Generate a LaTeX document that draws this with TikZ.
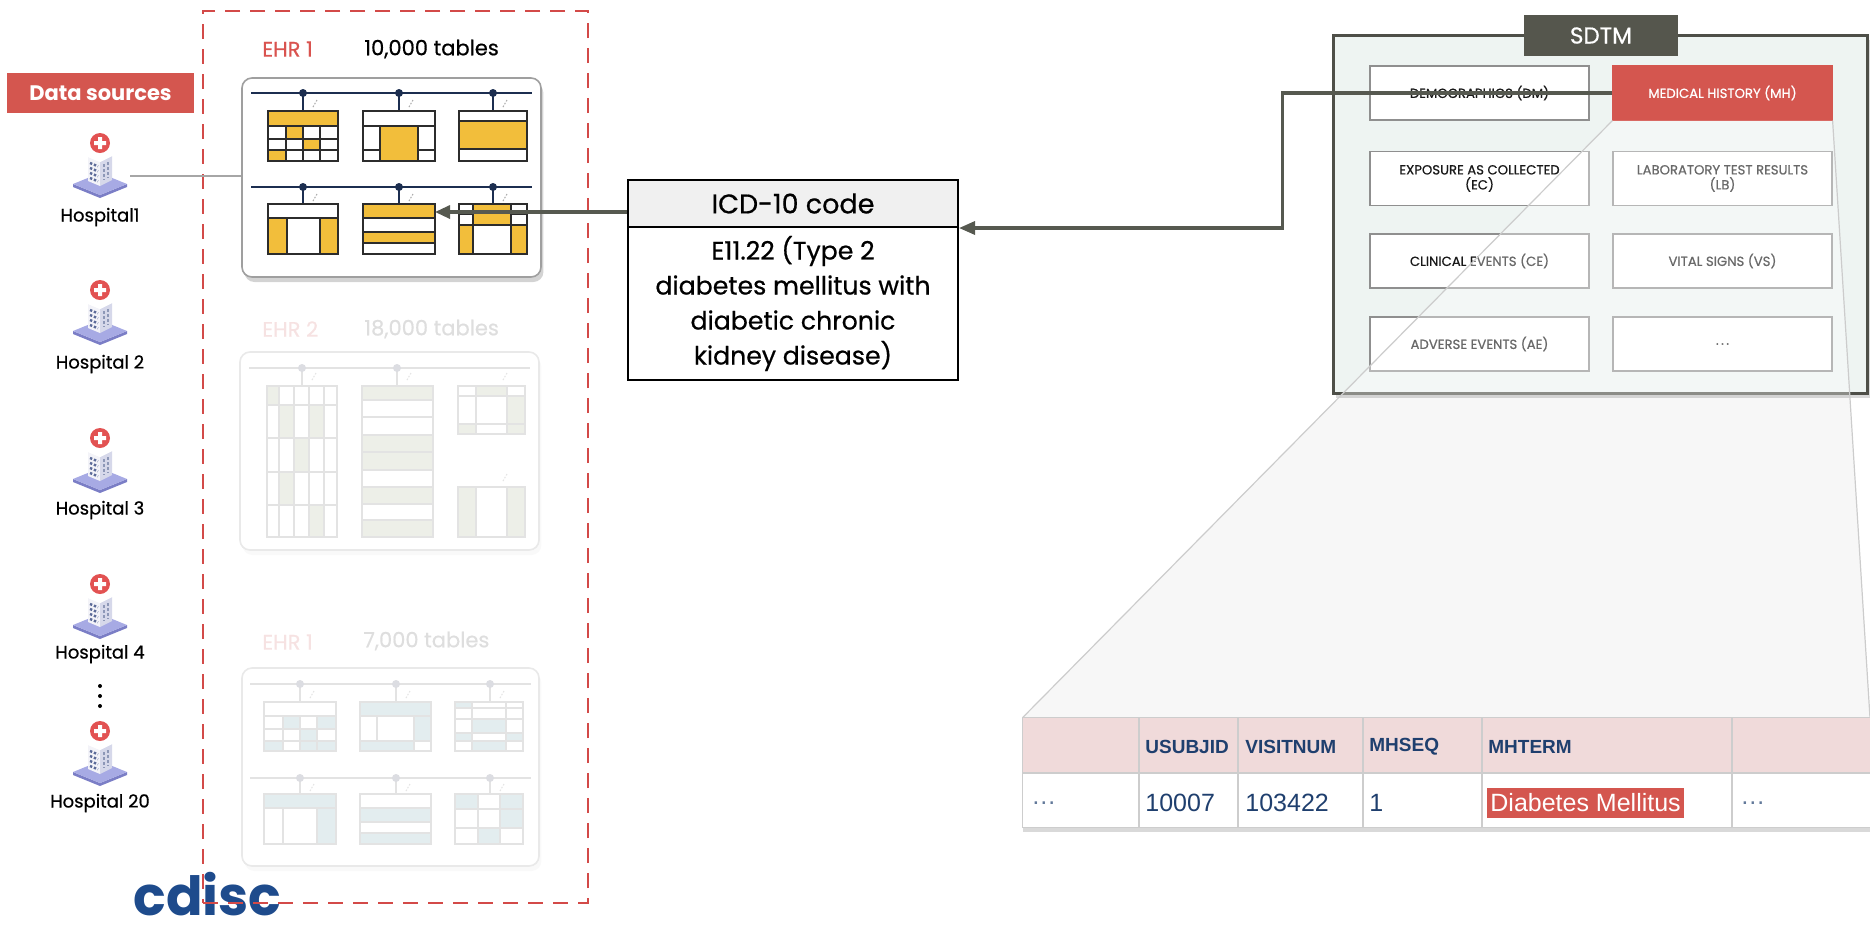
\documentclass[tikz,border=0pt]{standalone}
\usepackage{fontspec}
\setmainfont{Poppins}
\newfontfamily\medfont{Poppins}[FakeBold=0.6]
\newfontfamily\arialfont{Liberation Sans}
\usetikzlibrary{shadows,arrows.meta,fit,calc}

\definecolor{brandred}{HTML}{D4564F}
\definecolor{dashred}{HTML}{D34A48}
\definecolor{ehrred}{HTML}{D9534F}
\definecolor{yel}{HTML}{F2BE3B}
\definecolor{busnavy}{HTML}{1C2E50}
\definecolor{tabline}{HTML}{2C2C2C}
\definecolor{connline}{HTML}{565950}
\definecolor{sdtmline}{HTML}{4E4F48}
\definecolor{sdtmfill}{HTML}{EEF4F2}
\definecolor{tagfill}{HTML}{55564D}
\definecolor{domline}{HTML}{8F8F8F}
\definecolor{headpink}{HTML}{F0DADA}
\definecolor{gridgray}{HTML}{CDCDCD}
\definecolor{tabnavy}{HTML}{1F3F6E}
\definecolor{logonavy}{HTML}{1E4B8C}
\definecolor{crossred}{HTML}{E25252}
\definecolor{baselav}{HTML}{A7AAE4}
\definecolor{baseedge}{HTML}{7B7EC6}
\definecolor{winblue}{HTML}{5C6B98}
\definecolor{bldfront}{HTML}{F3F3F8}
\definecolor{bldside}{HTML}{D6D8EA}
\definecolor{fadegreen}{HTML}{EDEFE8}
\definecolor{fadeblue}{HTML}{E3EDEF}
\definecolor{fadeline}{HTML}{E3E3E3}
\definecolor{fadedot}{HTML}{DCDDE2}
\definecolor{fadepink}{HTML}{F6E2E2}
\definecolor{fadetext}{HTML}{DEDEDE}
\definecolor{iheadfill}{HTML}{F0F0F0}
\definecolor{funnelgray}{HTML}{F7F7F7}

\tikzset{
  hospital/.pic={
    \fill[baseedge] (-27,41) -- (0,52) -- (27,41) -- (27,44) -- (0,55) -- (-27,44) -- cycle;
    \fill[baselav] (-27,41) -- (0,30) -- (27,41) -- (0,52) -- cycle;
    \fill[bldfront] (-12,14) -- (0,19) -- (0,43) -- (-12,38) -- cycle;
    \fill[bldside] (0,19) -- (12,13) -- (12,37) -- (0,43) -- cycle;
    \fill[white] (-12,14) -- (0,9) -- (12,13) -- (0,19) -- cycle;
    \foreach \r in {0,1,2,3}
      \draw[winblue, line width=1.2pt, dash pattern=on 1.2pt off 0.9pt] (-10,20+5*\r) -- (-2,23.3+5*\r);
    \draw[winblue!70, line width=1pt, dash pattern=on 1.5pt off 1pt] (4,21) -- (4,37) (8,19) -- (8,35);
    \fill[crossred] (0,0) circle (10);
    \fill[white] (-6,-2) rectangle (6,2) (-2,-6) rectangle (2,6);
  },
  hosplbl/.style={font=\medfont\fontsize{9}{10}\selectfont, text=black, inner sep=0},
  banner/.style={fill=brandred, text=white, font=\bfseries\fontsize{10.5}{12}\selectfont,
    minimum width=93.5pt, minimum height=20pt, inner sep=0},
  ehrlbl/.style={font=\medfont\fontsize{10.5}{12}\selectfont, inner sep=0, anchor=west},
  ehrframe/.style={draw=gray!75, line width=0.8pt, fill=white, rounded corners=5pt, inner sep=0,
    drop shadow={shadow xshift=1.2pt, shadow yshift=-2.5pt, opacity=0.35}},
  fadeframe/.style={draw=fadeline!80, line width=0.8pt, fill=white, rounded corners=5pt, inner sep=0,
    drop shadow={shadow xshift=1.2pt, shadow yshift=-2.5pt, opacity=0.05}},
  busline/.style={draw=busnavy, line width=1pt},
  fadebus/.style={draw=fadeline, line width=1pt},
  tabedge/.style={draw=tabline, line width=1.1pt},
  fadeedge/.style={draw=fadeline, line width=1pt},
  tablink/.style={draw=gray!70, line width=0.5pt, dash pattern=on 0.8pt off 0.8pt},
  fadelink/.style={draw=fadeline, line width=0.5pt, dash pattern=on 0.8pt off 0.8pt},
  dashbox/.style={draw=dashred, line width=1.2pt, dash pattern=on 7.5pt off 5pt, inner sep=0},
  hline/.style={draw=gray!70, line width=0.6pt},
  icdhead/.style={draw=black, line width=1pt, fill=iheadfill, minimum width=165pt, minimum height=23.5pt,
    inner sep=0, font=\medfont\fontsize{13.5}{16}\selectfont},
  icdbody/.style={draw=black, line width=1pt, fill=white, minimum width=165pt, minimum height=76.5pt,
    inner sep=0, align=center, font=\medfont\fontsize{12.6}{17.5}\selectfont},
  conn/.style={draw=connline, line width=1.6pt},
  sdtmframe/.style={draw=sdtmline, line width=1.5pt, fill=sdtmfill, minimum width=267pt, minimum height=179pt,
    inner sep=0, drop shadow={shadow xshift=1.5pt, shadow yshift=-2.5pt, opacity=0.3}},
  sdtmtagbox/.style={fill=tagfill, text=white, minimum width=77pt, minimum height=20.5pt, inner sep=0,
    font=\medfont\fontsize{11.5}{13}\selectfont},
  dom/.style={draw=domline, line width=0.6pt, fill=white, minimum width=109.5pt, minimum height=27pt,
    inner sep=0, align=center, text=black!90, font=\medfont\fontsize{6.6}{7.5}\selectfont},
  funnelline/.style={draw=gray!40, line width=0.6pt},
  tabgrid/.style={draw=gridgray, line width=0.7pt},
  thead/.style={anchor=west, inner sep=0, text=tabnavy, font=\arialfont\bfseries\fontsize{9.5}{11}\selectfont},
  tcell/.style={anchor=west, inner sep=0, text=tabnavy, font=\arialfont\fontsize{12.5}{14}\selectfont},
  logo/.style={text=logonavy, inner sep=0, font=\bfseries\fontsize{27}{30}\selectfont}
}

\begin{document}
\begin{tikzpicture}[x=0.5pt,y=-0.5pt]
\useasboundingbox (0,0) rectangle (1870,928);
\clip (0,0) rectangle (1870,928);

% light zoom funnel behind the record table
\fill[funnelgray] (1613,120) -- (1832,120) -- (1870,718) -- (1023,718) -- cycle;

% logo
\node[logo, anchor=base west] (cdisc) at (133,915) {cdisc};

% hospitals
\node[banner] (datasrc) at (100.5,93) {Data sources};
\pic at (100,143) {hospital};
\node[hosplbl] (hosp1) at (100,217) {Hospital1};
\pic at (100,290) {hospital};
\node[hosplbl] (hosp2) at (100,364) {Hospital 2};
\pic at (100,438) {hospital};
\node[hosplbl] (hosp3) at (100,510) {Hospital 3};
\pic at (100,584) {hospital};
\node[hosplbl] (hosp4) at (100,654) {Hospital 4};
\foreach \y in {686,696,706} \fill[black] (100,\y) circle (2);
\pic at (100,731) {hospital};
\node[hosplbl] (hosp20) at (100,803) {Hospital 20};

% ---------- EHR 2 (faded) ----------
\node[ehrlbl, text=fadepink] (ehr2name) at (262,329) {EHR 2};
\node[ehrlbl, text=fadetext] (ehr2count) at (364,329) {18,000 tables};
\node[fadeframe, fit={(240,352) (539,550)}] (ehr2) {};
\draw[fadebus] (249,368) -- (530,368);
\foreach \x in {302,397}{
  \draw[fadebus] (\x,368) -- (\x,386);
  \fill[fadedot] (\x,368) circle (4);
}
\draw[fadelink] (312,380) -- (316,373) (407,380) -- (411,373) (503,380) -- (507,373) (503,481) -- (507,474);
% table A
\fill[fadegreen] (267,386) rectangle (279,405) (279,405) rectangle (294,438) (309,405) rectangle (324,438)
  (294,438) rectangle (309,472) (279,472) rectangle (294,505) (309,505) rectangle (324,537);
\draw[fadeedge] (279,386) -- (279,537) (294,386) -- (294,537) (309,386) -- (309,537) (324,386) -- (324,537)
  (267,405) -- (337,405) (267,438) -- (337,438) (267,472) -- (337,472) (267,505) -- (337,505);
\draw[fadeedge] (267,386) rectangle (337,537);
% table B
\fill[fadegreen] (362,386) rectangle (433,400) (362,435) rectangle (433,470) (362,487) rectangle (433,504)
  (362,520) rectangle (433,537);
\foreach \y in {400,417,435,452,470,487,504,520} \draw[fadeedge] (362,\y) -- (433,\y);
\draw[fadeedge] (362,386) rectangle (433,537);
% table C
\fill[fadegreen] (476,386) rectangle (507,396) (507,396) rectangle (525,424) (458,424) rectangle (476,434)
  (507,424) rectangle (525,434);
\draw[fadeedge] (476,386) -- (476,434) (507,386) -- (507,434) (458,396) -- (525,396) (458,424) -- (525,424);
\draw[fadeedge] (458,386) rectangle (525,434);
% table D
\fill[fadegreen] (458,487) rectangle (476,537) (507,487) rectangle (525,537);
\draw[fadeedge] (476,487) -- (476,537) (507,487) -- (507,537);
\draw[fadeedge] (458,487) rectangle (525,537);

% ---------- EHR 3 (faded) ----------
\node[ehrlbl, text=fadepink] (ehr3name) at (262,642) {EHR 1};
\node[ehrlbl, text=fadetext] (ehr3count) at (363,641) {7,000 tables};
\node[fadeframe, fit={(242,668) (539,866)}] (ehr3) {};
\draw[fadebus] (250,684) -- (531,684) (250,778) -- (531,778);
\foreach \x in {300,396,490}{
  \draw[fadebus] (\x,684) -- (\x,702) (\x,778) -- (\x,794);
  \fill[fadedot] (\x,684) circle (4);
  \fill[fadedot] (\x,778) circle (4);
  \draw[fadelink] (\x+10,698) -- (\x+14,691) (\x+10,791) -- (\x+14,784);
}
% row 1
\fill[fadeblue] (283,716) rectangle (300,729) (317,716) rectangle (336,729) (300,729) rectangle (317,751)
  (264,741) rectangle (283,751) (317,741) rectangle (336,751);
\draw[fadeedge] (264,716) -- (336,716) (264,729) -- (336,729) (264,741) -- (336,741)
  (283,716) -- (283,751) (300,716) -- (300,751) (317,716) -- (317,751);
\draw[fadeedge] (264,702) rectangle (336,751);
\fill[fadeblue] (360,702) rectangle (431,716) (414,716) rectangle (431,741) (360,741) rectangle (414,751);
\draw[fadeedge] (360,716) -- (431,716) (360,741) -- (431,741) (377,716) -- (377,741) (414,716) -- (414,751);
\draw[fadeedge] (360,702) rectangle (431,751);
\fill[fadeblue] (455,702) rectangle (472,708) (472,719) rectangle (506,733) (455,733) rectangle (472,741)
  (506,733) rectangle (523,741) (472,741) rectangle (506,751);
\draw[fadeedge] (472,702) -- (472,751) (506,702) -- (506,751) (455,708) -- (523,708) (455,719) -- (523,719)
  (455,733) -- (523,733) (455,741) -- (523,741);
\draw[fadeedge] (455,702) rectangle (523,751);
% row 2
\fill[fadeblue] (264,794) rectangle (336,808) (317,808) rectangle (336,844);
\draw[fadeedge] (264,808) -- (336,808) (283,808) -- (283,844) (317,808) -- (317,844);
\draw[fadeedge] (264,794) rectangle (336,844);
\fill[fadeblue] (360,808) rectangle (431,822) (360,833) rectangle (431,844);
\draw[fadeedge] (360,808) -- (431,808) (360,822) -- (431,822) (360,833) -- (431,833);
\draw[fadeedge] (360,794) rectangle (431,844);
\fill[fadeblue] (455,794) rectangle (478,809) (500,794) rectangle (523,828) (478,828) rectangle (500,844);
\draw[fadeedge] (478,794) -- (478,844) (500,794) -- (500,844) (455,809) -- (523,809) (455,828) -- (523,828);
\draw[fadeedge] (455,794) rectangle (523,844);

% ---------- EHR 1 ----------
\node[ehrlbl, text=ehrred] (ehr1name) at (262,49) {EHR 1};
\node[ehrlbl, text=black] (ehr1count) at (364,49) {10,000 tables};
\node[ehrframe, fit={(242,78) (541,277)}] (ehr1) {};
\draw[busline] (251,93) -- (532,93) (251,187) -- (532,187);
\foreach \x in {303,399,493}{
  \draw[busline] (\x,93) -- (\x,111) (\x,187) -- (\x,204);
  \fill[busnavy] (\x,93) circle (4);
  \fill[busnavy] (\x,187) circle (4);
  \draw[tablink] (\x+10,107) -- (\x+14,100) (\x+10,201) -- (\x+14,194);
}
% table 1
\fill[yel] (268,111) rectangle (338,126) (286,126) rectangle (303,139) (303,139) rectangle (320,150)
  (268,150) rectangle (286,161);
\draw[tabedge] (268,126) -- (338,126) (268,139) -- (338,139) (268,150) -- (338,150)
  (286,126) -- (286,161) (303,126) -- (303,161) (320,126) -- (320,161);
\draw[tabedge] (268,111) rectangle (338,161);
% table 2
\fill[yel] (380,126) rectangle (418,161);
\draw[tabedge] (363,126) -- (435,126) (380,126) -- (380,161) (418,126) -- (418,161)
  (363,150) -- (380,150) (418,150) -- (435,150);
\draw[tabedge] (363,111) rectangle (435,161);
% table 3
\fill[yel] (459,121) rectangle (527,149);
\draw[tabedge] (459,121) -- (527,121) (459,149) -- (527,149);
\draw[tabedge] (459,111) rectangle (527,161);
% table 4
\fill[yel] (268,218) rectangle (287,254) (320,218) rectangle (338,254);
\draw[tabedge] (268,218) -- (338,218) (287,218) -- (287,254) (320,218) -- (320,254);
\draw[tabedge] (268,204) rectangle (338,254);
% table 5
\fill[yel] (363,204) rectangle (435,218) (363,232) rectangle (435,243);
\draw[tabedge] (363,218) -- (435,218) (363,232) -- (435,232) (363,243) -- (435,243);
\draw[tabedge] (363,204) rectangle (435,254);
% table 6
\fill[yel] (473,204) rectangle (511,225) (459,225) rectangle (473,254) (511,225) rectangle (527,254);
\draw[tabedge] (473,204) -- (473,254) (511,204) -- (511,254) (459,225) -- (527,225)
  (459,214) -- (473,214) (511,214) -- (527,214);
\draw[tabedge] (459,204) rectangle (527,254);
\coordinate (t5in) at (435,212);

% sources frame
\node[dashbox, fit={(203,11) (588,903)}] (sources) {};

% hospital 1 link
\coordinate (h1port) at (130,176);
\draw[hline] (h1port) -- (h1port -| ehr1.west);

% ---------- ICD-10 code ----------
\node[icdhead] (icdhead) at (793,203.5) {ICD-10 code};
\node[icdbody] (icdbody) at (793,303.5) {E11.22 (Type 2\\diabetes mellitus with\\diabetic chronic\\kidney disease)};

% ---------- SDTM ----------
\node[sdtmframe] (sdtm) at (1600,214) {};
\node[sdtmtagbox] (sdtmtag) at (1601,35.5) {SDTM};
\node[dom] (dm) at (1479.5,93) {DEMOGRAPHICS (DM)};
\node[dom, fill=brandred, draw=brandred, text=white] (mh) at (1722.5,93) {MEDICAL HISTORY (MH)};
\node[dom] (ec) at (1479.5,178.5) {EXPOSURE AS COLLECTED\\(EC)};
\node[dom] (lb) at (1722.5,178.5) {LABORATORY TEST RESULTS\\(LB)};
\node[dom] (ce) at (1479.5,261) {CLINICAL EVENTS (CE)};
\node[dom] (vs) at (1722.5,261) {VITAL SIGNS (VS)};
\node[dom] (ae) at (1479.5,344) {ADVERSE EVENTS (AE)};
\node[dom] (more) at (1722.5,344) {.\hspace{1.2pt}.\hspace{1.2pt}.};

% ---------- record table ----------
\node[fit={(1023,718) (1874,827)}, inner sep=0, fill=white,
  drop shadow={shadow xshift=0pt, shadow yshift=-2.5pt, opacity=0.3}] (mhtab) {};
\coordinate (fr) at (1870,718);

% zoom funnel over the model
\begin{scope}
  \clip (sdtm.south west) rectangle (sdtm.north east);
  \fill[white, fill opacity=0.35] (mh.south west) -- (mh.south east) -- (fr) -- (mhtab.north west) -- cycle;
\end{scope}
\draw[funnelline] (mh.south west) -- (mhtab.north west);
\draw[funnelline] (mh.south east) -- (fr);

\fill[headpink] (1023,718) rectangle (1874,773);
\draw[tabgrid] (1023,773) -- (1874,773);
\foreach \x in {1139,1238,1363,1482,1732} \draw[tabgrid] (\x,718) -- (\x,827);
\draw[tabgrid] (mhtab.north west) rectangle (mhtab.south east);
\node[thead] (husubjid) at (1145,747) {USUBJID};
\node[thead] (hvisit) at (1245,747) {VISITNUM};
\node[thead] (hseq) at (1369,747) {MHSEQ};
\node[thead] (hterm) at (1488,747) {MHTERM};
\node[tcell, text=tabnavy!70] (c0) at (1031,803) {\dots};
\node[tcell] (cusubjid) at (1145,803) {10007};
\node[tcell] (cvisit) at (1245,803) {103422};
\node[tcell] (cseq) at (1369,803) {1};
\node[tcell, fill=brandred, text=white, inner xsep=1.5pt, minimum height=15pt] (cterm) at (1487,803) {Diabetes Mellitus};
\node[tcell, text=tabnavy!70] (cmore) at (1740,803) {\dots};

% ---------- connectors ----------
\draw[conn, -{Triangle[length=7.5pt,width=6.5pt]}] (icdhead.west |- t5in) -- (t5in);
\draw[conn, -{Triangle[length=8pt,width=6.5pt]}] (mh.west) -- ++(-330,0) |- (icdhead.south east);

\end{tikzpicture}
\end{document}
